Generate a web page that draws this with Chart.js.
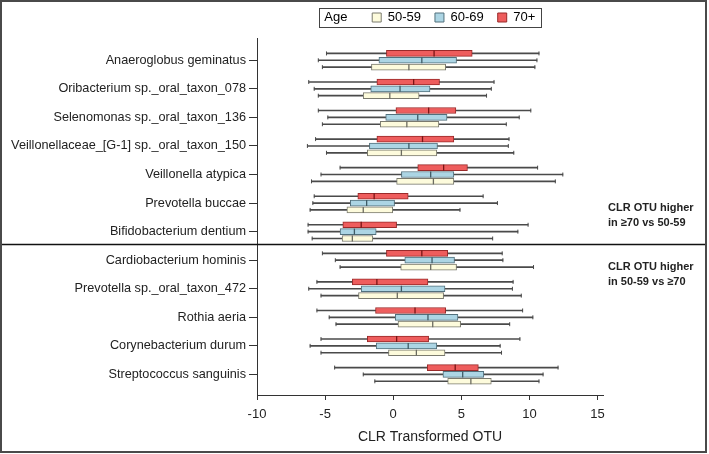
<!DOCTYPE html>
<html>
<head>
<meta charset="utf-8">
<script src="https://cdn.jsdelivr.net/npm/chart.js@4/dist/chart.umd.min.js"></script>
<style>
  html, body { margin: 0; padding: 0; background: #fff; }
  #wrap { width: 709px; height: 454px; }
</style>
</head>
<body>
<div id="wrap"><canvas id="chart" width="709" height="454"></canvas></div>
<script>
// Taxa, top to bottom
const categories = [
    'Anaeroglobus geminatus',
    'Oribacterium sp._oral_taxon_078',
    'Selenomonas sp._oral_taxon_136',
    'Veillonellaceae_[G-1] sp._oral_taxon_150',
    'Veillonella atypica',
    'Prevotella buccae',
    'Bifidobacterium dentium',
    'Cardiobacterium hominis',
    'Prevotella sp._oral_taxon_472',
    'Rothia aeria',
    'Corynebacterium durum',
    'Streptococcus sanguinis'
];
const xTicks = [-10, -5, 0, 5, 10, 15];

// 70+
const min70 = [-4.9, -6.2, -5.5, -5.7, -3.9, -5.8, -6.25, -5.2, -5.6, -5.6, -5.3, -4.3];
const q1_70 = [-0.5, -1.2, 0.2, -1.2, 1.8, -2.6, -3.7, -0.5, -3.0, -1.3, -1.9, 2.5];
const med70 = [3.0, 1.5, 2.6, 2.15, 3.7, -1.4, -2.35, 2.1, -1.2, 1.6, 0.25, 4.55];
const q3_70 = [5.8, 3.4, 4.6, 4.45, 5.45, 1.1, 0.25, 4.0, 2.55, 3.85, 2.6, 6.25];
const max70 = [10.7, 7.4, 10.1, 8.5, 10.6, 6.6, 9.9, 8.0, 8.8, 9.5, 9.3, 12.1];

// 60-69
const min60 = [-5.5, -5.8, -4.8, -6.3, -5.3, -5.9, -6.25, -4.25, -6.2, -4.7, -6.1, -2.2];
const q1_60 = [-1.05, -1.65, -0.55, -1.75, 0.6, -3.15, -3.9, 0.85, -2.35, 0.15, -1.25, 3.65];
const med60 = [2.1, 0.5, 1.8, 1.15, 2.75, -1.95, -2.85, 2.85, 0.6, 2.55, 1.1, 5.1];
const q3_60 = [4.65, 2.7, 3.95, 3.25, 4.45, 0.1, -1.25, 4.5, 3.8, 4.75, 3.2, 6.65];
const max60 = [10.55, 7.2, 9.25, 8.45, 12.45, 7.65, 9.15, 8.05, 8.75, 10.25, 7.85, 11.0];

// 50-59
const min50 = [-5.2, -5.5, -5.2, -4.9, -6.0, -6.1, -5.95, -3.9, -5.3, -4.2, -5.3, -1.35];
const q1_50 = [-1.6, -2.2, -0.95, -1.9, 0.25, -3.4, -3.75, 0.55, -2.55, 0.35, -0.35, 4.0];
const med50 = [1.15, -0.25, 1.0, 0.6, 2.95, -2.2, -3.0, 2.75, 0.3, 2.9, 1.7, 5.7];
const q3_50 = [3.85, 1.9, 3.35, 3.2, 4.45, 0.0, -1.5, 4.65, 3.7, 4.95, 3.8, 7.2];
const max50 = [10.4, 6.85, 8.3, 8.85, 11.9, 4.9, 7.3, 10.3, 9.4, 8.55, 7.95, 10.7];

const groups = [
    { label: '50-59', off: 0.24, fill: '#fdfbdc', edge: '#7a7a6e', mid: '#6b6b60',
      min: min50, q1: q1_50, med: med50, q3: q3_50, max: max50 },
    { label: '60-69', off: 0, fill: '#acd5e4', edge: '#52707c', mid: '#3f5b66',
      min: min60, q1: q1_60, med: med60, q3: q3_60, max: max60 },
    { label: '70+', off: -0.24, fill: '#ee5d5d', edge: '#9a2a2a', mid: '#7a1515',
      min: min70, q1: q1_70, med: med70, q3: q3_70, max: max70 }
];

const FONT = "Arial, 'Liberation Sans', sans-serif";
const whiskerColor = '#4a4a4a';
const legendBox = 9;
const legendFont = 13;

// Build box-plot pieces for each age group
const datasets = [];
groups.forEach((g) => {
    const row = (i) => i + g.off;
    datasets.push({
        type: 'bar', indexAxis: 'y', grouped: false, order: 3,
        data: categories.map((c, i) => ({ y: row(i), x: [g.min[i], g.max[i]] })),
        backgroundColor: whiskerColor, borderWidth: 0, barThickness: 1
    });
    datasets.push({
        type: 'scatter', order: 2,
        data: categories.flatMap((c, i) => [{ x: g.min[i], y: row(i) }, { x: g.max[i], y: row(i) }]),
        pointStyle: 'line', pointRotation: 90, pointRadius: 2,
        pointBorderColor: whiskerColor, pointBorderWidth: 1
    });
    datasets.push({
        type: 'bar', indexAxis: 'y', grouped: false, order: 1, label: g.label,
        data: categories.map((c, i) => ({ y: row(i), x: [g.q1[i], g.q3[i]] })),
        backgroundColor: g.fill, borderColor: g.edge, borderWidth: 1,
        borderSkipped: false, barThickness: 6
    });
    datasets.push({
        type: 'scatter', order: 0,
        data: categories.map((c, i) => ({ x: g.med[i], y: row(i) })),
        pointStyle: 'line', pointRotation: 90, pointRadius: 3,
        pointBorderColor: g.mid, pointBorderWidth: 1.3
    });
});

// Center the legend over the plot area and lift it a little
const legendShift = {
    id: 'legendShift',
    afterLayout(chart) {
        const lg = chart.legend, a = chart.chartArea;
        lg.left = a.left - 8;
        lg.right = a.right - 8;
        lg.width = a.right - a.left;
        lg.top -= 4;
        lg.bottom -= 4;
    }
};

// Legend frame, divider, side notes, figure border
const decor = {
    id: 'decor',
    afterDraw(chart) {
        const ctx = chart.ctx;
        const a = chart.chartArea;
        const boxes = chart.legend.legendHitBoxes;
        ctx.save();
        if (boxes && boxes.length) {
            const l = boxes[0].left + legendBox + legendFont / 2 - 5;
            const last = boxes[boxes.length - 1];
            const r = last.left + last.width + 6;
            const t = boxes[0].top - 3;
            const b = boxes[0].top + boxes[0].height + 3;
            ctx.strokeStyle = '#444';
            ctx.lineWidth = 1;
            ctx.strokeRect(Math.round(l) + 0.5, Math.round(t) + 0.5, Math.round(r - l), Math.round(b - t));
        }

        const sy = chart.scales.y.getPixelForValue(6.45);
        ctx.strokeStyle = '#111';
        ctx.lineWidth = 1.5;
        ctx.beginPath();
        ctx.moveTo(1, sy);
        ctx.lineTo(706, sy);
        ctx.stroke();

        ctx.fillStyle = '#222';
        ctx.font = "bold 11px 'Liberation Sans', Arial, sans-serif";
        ctx.textBaseline = 'middle';
        ctx.textAlign = 'left';
        const tx = a.right + 5;
        ctx.fillText('CLR OTU higher', tx, sy - 36.5);
        ctx.fillText('in \u226570 vs 50-59', tx, sy - 22);
        ctx.fillText('CLR OTU higher', tx, sy + 22.5);
        ctx.fillText('in 50-59 vs \u226570', tx, sy + 37.5);

        ctx.strokeStyle = '#4a4a4a';
        ctx.lineWidth = 2;
        ctx.strokeRect(1, 1, 705, 451);
        ctx.restore();
    }
};

const ctx = document.getElementById('chart').getContext('2d');
new Chart(ctx, {
    type: 'bar',
    data: { datasets },
    options: {
        responsive: false,
        animation: false,
        events: [],
        layout: { padding: { top: 1, left: 0, right: 106, bottom: 0 } },
        plugins: {
            tooltip: { enabled: false },
            legend: {
                position: 'top',
                align: 'center',
                labels: {
                    color: '#222',
                    font: { family: FONT, size: legendFont },
                    boxWidth: legendBox,
                    boxHeight: legendBox,
                    padding: 14,
                    generateLabels: () => [
                        { text: 'Age   ', fillStyle: 'rgba(0,0,0,0)', strokeStyle: 'rgba(0,0,0,0)', lineWidth: 0, hidden: false },
                        ...groups.map((g) => ({ text: g.label, fillStyle: g.fill, strokeStyle: g.edge, lineWidth: 1, hidden: false }))
                    ]
                }
            }
        },
        scales: {
            x: {
                type: 'linear',
                min: -10,
                max: 15.4,
                offset: false,
                afterBuildTicks: (s) => { s.ticks = xTicks.map((v) => ({ value: v })); },
                afterFit: (s) => { s.height = 59; },
                border: { display: true, color: '#333', width: 1 },
                grid: { drawOnChartArea: false, offset: false, tickLength: 5, color: '#333' },
                ticks: { color: '#222', font: { family: FONT, size: 13 }, padding: 7, maxRotation: 0 },
                title: {
                    display: true,
                    text: 'CLR Transformed OTU',
                    color: '#222',
                    font: { family: FONT, size: 14 },
                    padding: { top: 2, bottom: 8 }
                }
            },
            y: {
                type: 'linear',
                reverse: true,
                min: -0.78,
                max: 11.72,
                offset: false,
                afterBuildTicks: (s) => { s.ticks = categories.map((c, i) => ({ value: i })); },
                afterFit: (s) => { s.width = 257; },
                border: { display: true, color: '#333', width: 1 },
                grid: { drawOnChartArea: false, offset: false, tickLength: 8, color: '#333' },
                ticks: {
                    autoSkip: false,
                    color: '#222',
                    font: { family: FONT, size: 12.7 },
                    padding: 3,
                    callback: (v) => categories[v]
                }
            }
        }
    },
    plugins: [legendShift, decor]
});
</script>
</body>
</html>
